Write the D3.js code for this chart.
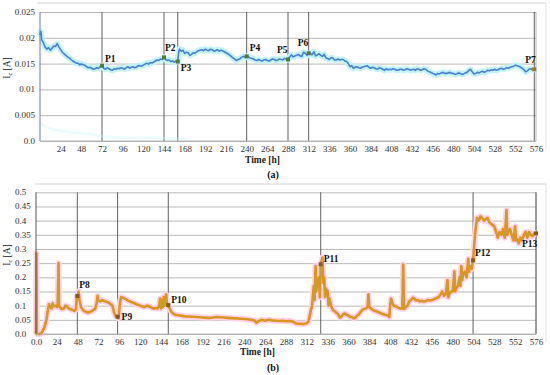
<!DOCTYPE html>
<html><head><meta charset="utf-8">
<script src="https://cdn.jsdelivr.net/npm/d3@7"></script>
<style>body{margin:0;background:#fff}svg{display:block}svg text{font-family:"Liberation Serif","Times New Roman",serif !important}</style>
</head><body>
<svg id="c" width="550" height="375"></svg>
<script>
// ---------- Panel (a) data ----------
const hoursA = [0,1,2,4,6,8,10,12,14,16,18,20,22,24,26,28,30,32,34,36,38,40,42,44,46,48,50,52,54,56,58,60,62,64,66,68,70,72,74,76,78,80,82,84,86,88,90,92,94,96,98,100,102,104,106,108,110,112,114,116,118,120,122,124,126,128,130,132,134,136,138,140,142,144,146,148,150,152,154,156,158,160,161,162,164,166,168,170,172,174,176,178,180,182,184,186,188,190,192,194,196,198,200,202,204,206,208,210,212,214,216,218,220,222,224,226,228,230,232,234,236,238,240,242,244,246,248,250,252,254,256,258,260,262,264,266,268,270,272,274,276,278,280,282,284,286,288,290,292,294,296,298,300,302,304,306,308,310,312,314,316,318,320,322,324,326,328,330,332,334,336,338,340,342,344,346,348,350,352,354,356,358,360,362,364,366,368,370,372,374,376,378,380,382,384,386,388,390,392,394,396,398,400,402,404,406,408,410,412,414,416,418,420,422,424,426,428,430,432,434,436,438,440,442,444,446,448,450,452,454,456,458,460,462,464,466,468,470,472,474,476,478,480,482,484,486,488,490,492,494,496,498,500,502,504,506,508,510,512,514,516,518,520,522,524,526,528,530,532,534,536,538,540,542,544,546,548,550,552,554,556,558,560,562,564,566,568,570,572,574];
const currentA = [0.0205,0.0212,0.0196,0.0190,0.0182,0.0178,0.0181,0.0176,0.0180,0.0184,0.0183,0.0189,0.0182,0.0177,0.0172,0.0169,0.0166,0.0163,0.0161,0.0158,0.0155,0.0153,0.0151,0.0151,0.0148,0.0149,0.0148,0.0147,0.0144,0.0142,0.0143,0.0141,0.0139,0.0140,0.0142,0.0141,0.0144,0.0146,0.0141,0.0139,0.0142,0.0140,0.0138,0.0137,0.0140,0.0139,0.0141,0.0140,0.0142,0.0141,0.0139,0.0142,0.0144,0.0141,0.0143,0.0144,0.0142,0.0143,0.0146,0.0146,0.0145,0.0147,0.0149,0.0151,0.0149,0.0152,0.0151,0.0153,0.0155,0.0157,0.0156,0.0159,0.0158,0.0162,0.0158,0.0156,0.0157,0.0154,0.0155,0.0153,0.0155,0.0154,0.0172,0.0178,0.0174,0.0176,0.0170,0.0172,0.0171,0.0166,0.0168,0.0171,0.0170,0.0173,0.0175,0.0176,0.0177,0.0175,0.0178,0.0176,0.0175,0.0178,0.0177,0.0174,0.0175,0.0177,0.0174,0.0176,0.0175,0.0173,0.0171,0.0169,0.0167,0.0164,0.0161,0.0159,0.0156,0.0158,0.0159,0.0162,0.0164,0.0162,0.0164,0.0163,0.0161,0.0160,0.0159,0.0157,0.0156,0.0158,0.0156,0.0155,0.0157,0.0158,0.0156,0.0155,0.0157,0.0159,0.0158,0.0156,0.0157,0.0159,0.0158,0.0157,0.0160,0.0159,0.0158,0.0163,0.0167,0.0163,0.0165,0.0166,0.0168,0.0165,0.0164,0.0172,0.0170,0.0166,0.0170,0.0170,0.0167,0.0173,0.0165,0.0167,0.0169,0.0166,0.0164,0.0168,0.0161,0.0160,0.0158,0.0161,0.0161,0.0157,0.0157,0.0159,0.0157,0.0158,0.0158,0.0155,0.0154,0.0150,0.0144,0.0146,0.0141,0.0143,0.0144,0.0142,0.0141,0.0143,0.0144,0.0145,0.0146,0.0143,0.0141,0.0143,0.0142,0.0140,0.0139,0.0142,0.0141,0.0139,0.0137,0.0140,0.0138,0.0139,0.0138,0.0140,0.0139,0.0137,0.0137,0.0139,0.0139,0.0137,0.0138,0.0140,0.0139,0.0137,0.0138,0.0139,0.0137,0.0140,0.0139,0.0137,0.0138,0.0140,0.0139,0.0136,0.0134,0.0133,0.0131,0.0130,0.0128,0.0131,0.0130,0.0132,0.0133,0.0131,0.0131,0.0132,0.0133,0.0131,0.0131,0.0129,0.0130,0.0132,0.0131,0.0129,0.0130,0.0132,0.0133,0.0137,0.0139,0.0134,0.0130,0.0131,0.0133,0.0132,0.0134,0.0135,0.0133,0.0135,0.0137,0.0136,0.0138,0.0137,0.0139,0.0137,0.0138,0.0140,0.0141,0.0139,0.0140,0.0142,0.0141,0.0143,0.0144,0.0145,0.0147,0.0146,0.0145,0.0143,0.0141,0.0138,0.0134,0.0136,0.0139,0.0140,0.0138,0.0139];
const ghostHoursA = [0,8,20,40,60,72,100,130,150,170];
const ghostCurrentA = [0.0035,0.0026,0.0021,0.0016,0.0013,0.0009,0.0006,0.0007,0.0005,0.0004];
const pointLabelsA = ["P1","P2","P3","P4","P5","P6","P7"];
const pointHoursA = [72,144,160,240,288,312,574];
const pointCurrentA = [0.0146,0.0162,0.0154,0.0164,0.0158,0.0170,0.0139];
const yTicksA = [0,0.005,0.01,0.015,0.02,0.025];
const xTicksA = [24,48,72,96,120,144,168,192,216,240,264,288,312,336,360,384,408,432,456,480,504,528,552,576];

// ---------- Panel (b) data ----------
const hoursB = [0,0.5,1,4,6,8,10,12,14,15,16,18,19,20,22,24,25,26,26.5,28,30,32,34,36,38,40,42,44,46,47,48,49,50,52,54,56,58,60,62,64,66,68,70,71,72,74,76,78,80,82,84,86,88,90,92,94,95,96,97,98,100,102,104,106,108,110,112,114,116,118,120,122,124,126,128,130,132,134,136,138,140,142,143,144,145,146,147,148,149,150,151,152,154,156,158,160,164,168,172,176,180,184,188,192,196,200,204,208,212,216,220,224,228,232,236,240,244,248,252,254,256,260,264,268,272,276,280,284,288,292,296,300,304,308,312,314,316,318,320,321,322,323,324,326,327,328,330,331,332,333,334,336,337,338,340,342,344,346,348,350,352,354,356,358,360,362,364,366,368,370,372,374,376,378,380,382,383,384,386,388,390,392,394,396,398,400,402,404,406,407,408,409,410,412,414,416,418,420,422,423,424,426,428,430,432,434,436,438,440,442,444,446,448,450,452,454,456,458,460,462,464,466,468,470,472,474,475,476,478,480,482,483,484,486,488,489,490,491,492,494,496,498,499,500,502,503.5,505,506,508,510,512,514,516,518,520,522,524,526,528,530,532,534,536,538,540,542,543,544,546,548,550,552,553,554,556,558,560,562,564,566,568,570,572,574,576];
const currentB = [0.0,0.285,0.0,0.0,0.002,0.012,0.026,0.05,0.09,0.105,0.095,0.09,0.108,0.098,0.1,0.095,0.105,0.25,0.1,0.092,0.088,0.09,0.1,0.097,0.09,0.087,0.085,0.082,0.085,0.13,0.134,0.15,0.12,0.095,0.085,0.08,0.078,0.075,0.078,0.08,0.085,0.088,0.11,0.135,0.118,0.115,0.12,0.117,0.115,0.113,0.11,0.105,0.1,0.075,0.062,0.061,0.055,0.085,0.115,0.13,0.128,0.125,0.122,0.118,0.115,0.112,0.11,0.108,0.104,0.103,0.1,0.098,0.095,0.097,0.1,0.098,0.095,0.092,0.09,0.092,0.09,0.1,0.125,0.09,0.12,0.095,0.13,0.1,0.125,0.14,0.1,0.102,0.09,0.078,0.072,0.068,0.066,0.064,0.062,0.062,0.061,0.06,0.059,0.058,0.057,0.057,0.058,0.06,0.059,0.058,0.057,0.056,0.055,0.055,0.054,0.053,0.052,0.05,0.047,0.04,0.045,0.05,0.047,0.05,0.048,0.047,0.046,0.047,0.045,0.046,0.044,0.037,0.036,0.035,0.038,0.045,0.075,0.1,0.17,0.12,0.24,0.15,0.19,0.2,0.13,0.246,0.27,0.18,0.2,0.13,0.16,0.15,0.1,0.125,0.1,0.085,0.08,0.075,0.07,0.058,0.062,0.07,0.072,0.068,0.065,0.06,0.06,0.055,0.058,0.065,0.07,0.078,0.085,0.088,0.09,0.095,0.14,0.095,0.09,0.085,0.082,0.08,0.078,0.075,0.072,0.07,0.068,0.066,0.065,0.06,0.1,0.125,0.115,0.1,0.098,0.095,0.092,0.09,0.09,0.245,0.088,0.095,0.1,0.115,0.12,0.128,0.125,0.118,0.12,0.115,0.117,0.115,0.115,0.118,0.12,0.118,0.12,0.122,0.125,0.128,0.13,0.14,0.15,0.135,0.14,0.19,0.13,0.14,0.15,0.15,0.22,0.15,0.16,0.17,0.2,0.17,0.24,0.19,0.21,0.22,0.2,0.265,0.22,0.24,0.23,0.26,0.32,0.36,0.41,0.4,0.415,0.41,0.4,0.405,0.41,0.395,0.39,0.385,0.38,0.36,0.34,0.36,0.35,0.37,0.34,0.437,0.35,0.36,0.37,0.35,0.33,0.38,0.33,0.335,0.32,0.34,0.33,0.35,0.36,0.34,0.36,0.35,0.345,0.355,0.355];
const pointLabelsB = ["P8","P9","P10","P11","P12","P13"];
const pointHoursB = [47.6,94,152.4,328,503.5,576];
const pointCurrentB = [0.134,0.061,0.102,0.246,0.26,0.355];
const yTicksB = [0,0.05,0.1,0.15,0.2,0.25,0.3,0.35,0.4,0.45,0.5];
const xTicksB = [0,24,48,72,96,120,144,168,192,216,240,264,288,312,336,360,384,408,432,456,480,504,528,552,576];

const svg = d3.select("#c");
const TICK_COLOR = "#333";
const SERIF = "Liberation Serif, Times New Roman, serif";

function panel(cfg){
  const g = svg.append("g").style("font-family",SERIF);
  const x = d3.scaleLinear().domain([0,576]).range([cfg.left, 536]);
  const y = d3.scaleLinear().domain(cfg.yDomain).range([cfg.bottom, cfg.top]);

  g.append("line").attr("x1",cfg.frameLeft).attr("x2",546).attr("y1",cfg.frameTop).attr("y2",cfg.frameTop).attr("stroke","#d0d0d0");
  g.append("line").attr("x1",546).attr("x2",546).attr("y1",cfg.frameTop).attr("y2",cfg.bottom+8).attr("stroke","#e2e2e2");

  const yAx = d3.axisLeft(y).tickValues(cfg.yTicks).tickSize(-(536-cfg.left)).tickFormat("");
  g.append("g").attr("transform",`translate(${cfg.left},0)`).call(yAx)
    .call(s=>s.select(".domain").remove())
    .call(s=>s.selectAll("line").attr("stroke","#a8a8a8").attr("stroke-width",0.8));
  g.append("line").attr("x1",536).attr("x2",536).attr("y1",cfg.top).attr("y2",cfg.bottom).attr("stroke","#a8a8a8").attr("stroke-width",0.8);

  g.append("g").selectAll("text").data(cfg.yTicks).join("text")
    .attr("x",cfg.yLabelX).attr("y",d=>y(d)+3)
    .attr("text-anchor",cfg.yAnchor)
    .attr("font-size",9).attr("fill",TICK_COLOR)
    .style("font-family",SERIF)
    .text(cfg.yFmt);

  const xAx = d3.axisBottom(x).tickValues(cfg.xTicks).tickSize(0).tickPadding(0).tickFormat(cfg.xFmt);
  g.append("g").attr("transform",`translate(0,${cfg.bottom+5})`).call(xAx)
    .call(s=>s.select(".domain").remove())
    .call(s=>s.selectAll("text").attr("font-size",9).attr("fill",TICK_COLOR).style("font-family",SERIF));

  g.selectAll(".vl").data(cfg.pHours).join("line")
    .attr("x1",d=>x(d)).attr("x2",d=>x(d)).attr("y1",cfg.top).attr("y2",cfg.bottom)
    .attr("stroke","#505050").attr("stroke-width",0.9);

  cfg.drawSeries(g,x,y);

  g.append("line").attr("x1",cfg.left).attr("x2",cfg.left).attr("y1",cfg.top).attr("y2",cfg.bottom)
    .attr("stroke",cfg.axisColor).attr("stroke-width",1);
  g.append("line").attr("x1",cfg.left).attr("x2",536).attr("y1",cfg.bottom).attr("y2",cfg.bottom)
    .attr("stroke","#a8a8a8").attr("stroke-width",0.8);

  g.selectAll(".mk").data(cfg.pHours).join("rect")
    .attr("x",d=>x(d)-2).attr("y",(d,i)=>y(cfg.pVals[i])-2).attr("width",4).attr("height",4)
    .attr("fill",(d,i)=>cfg.markerColor(i));
  g.selectAll(".pl").data(cfg.pLabels).join("text")
    .attr("x",(d,i)=>x(cfg.pHours[i])+cfg.labelOff[i][0])
    .attr("y",(d,i)=>y(cfg.pVals[i])+cfg.labelOff[i][1])
    .attr("font-size",9.5).attr("font-weight","bold").attr("fill","#111")
    .style("font-family",SERIF)
    .text(d=>d);

  g.append("text").attr("x",cfg.xTitleX).attr("y",cfg.xTitleY).attr("font-size",9.5).attr("font-weight","bold").attr("fill","#222").style("font-family",SERIF).text("Time [h]");
  const yt = g.append("text").attr("transform",`translate(10,${cfg.yTitleY}) rotate(-90)`).attr("text-anchor","middle").attr("font-size",9.5).attr("fill","#222").style("font-family",SERIF);
  yt.append("tspan").text("I");
  yt.append("tspan").attr("font-size",6).attr("dy",2).text("c");
  yt.append("tspan").attr("dy",-2).text(" [A]");
  g.append("text").attr("x",273).attr("y",cfg.capY).attr("text-anchor","middle").attr("font-size",10).attr("font-weight","bold").attr("fill","#111").style("font-family",SERIF).text(cfg.caption);
}

panel({
  left:40, top:12, bottom:141, yDomain:[0,0.025], yTicks:yTicksA, xTicks:xTicksA,
  frameLeft:37, frameTop:3, yLabelX:35, yAnchor:"end",
  yFmt:d=>d===0?"0.0":String(+d.toFixed(3)), xFmt:d=>String(d),
  pHours:pointHoursA, pVals:pointCurrentA, pLabels:pointLabelsA,
  labelOff:[[3,-4],[1,-6],[3,9],[3,-5],[-11,-6],[-11,-7],[-9,-6]],
  markerColor:i=>i===6?"#a07a20":"#4f7a3a",
  axisColor:"#6a78cc",
  xTitleX:245, xTitleY:163, yTitleY:68, capY:178, caption:"(a)",
  drawSeries:(g,x,y)=>{
    const pts = hoursA.map((h,i)=>[h,currentA[i]]);
    const ghost = ghostHoursA.map((h,i)=>[h,ghostCurrentA[i]]);
    const ln = d3.line().x(d=>x(d[0])).y(d=>y(d[1]));
    g.append("path").attr("d",ln(ghost)).attr("fill","none").attr("stroke","#c9f3fa").attr("stroke-width",2.5).attr("opacity",0.35);
    g.append("path").attr("d",ln(pts)).attr("fill","none").attr("stroke","#c2f3fb").attr("stroke-width",6).attr("stroke-linejoin","round");
    g.append("path").attr("d",ln(pts)).attr("fill","none").attr("stroke","#4d7fd2").attr("stroke-width",1.6).attr("stroke-linejoin","round");
  }
});

panel({
  left:36, top:192.3, bottom:334, yDomain:[0,0.5], yTicks:yTicksB, xTicks:xTicksB,
  frameLeft:35, frameTop:184, yLabelX:15, yAnchor:"start",
  yFmt:d=>d===0?"0.0":String(+d.toFixed(2)), xFmt:d=>d===0?"0.0":String(d),
  pHours:pointHoursB, pVals:pointCurrentB, pLabels:pointLabelsB,
  labelOff:[[2,-8],[4,3],[3,-2],[3,-2],[2,-4],[-14,14]],
  markerColor:i=>"#8a5a18",
  axisColor:"#555",
  xTitleX:240, xTitleY:355, yTitleY:255, capY:371, caption:"(b)",
  drawSeries:(g,x,y)=>{
    const pts = hoursB.map((h,i)=>[h,currentB[i]]);
    const ln = d3.line().x(d=>x(d[0])).y(d=>y(d[1]));
    g.append("path").attr("d",ln(pts)).attr("fill","none").attr("stroke","#ffd3ea").attr("stroke-width",6).attr("stroke-linejoin","round");
    g.append("path").attr("d",ln(pts)).attr("fill","none").attr("stroke","#f28c1c").attr("stroke-width",2.6).attr("stroke-linejoin","round");
    g.append("path").attr("d",ln(pts)).attr("fill","none").attr("stroke","#c4a12a").attr("stroke-width",1.1).attr("stroke-linejoin","round");
  }
});
</script>
</body></html>
